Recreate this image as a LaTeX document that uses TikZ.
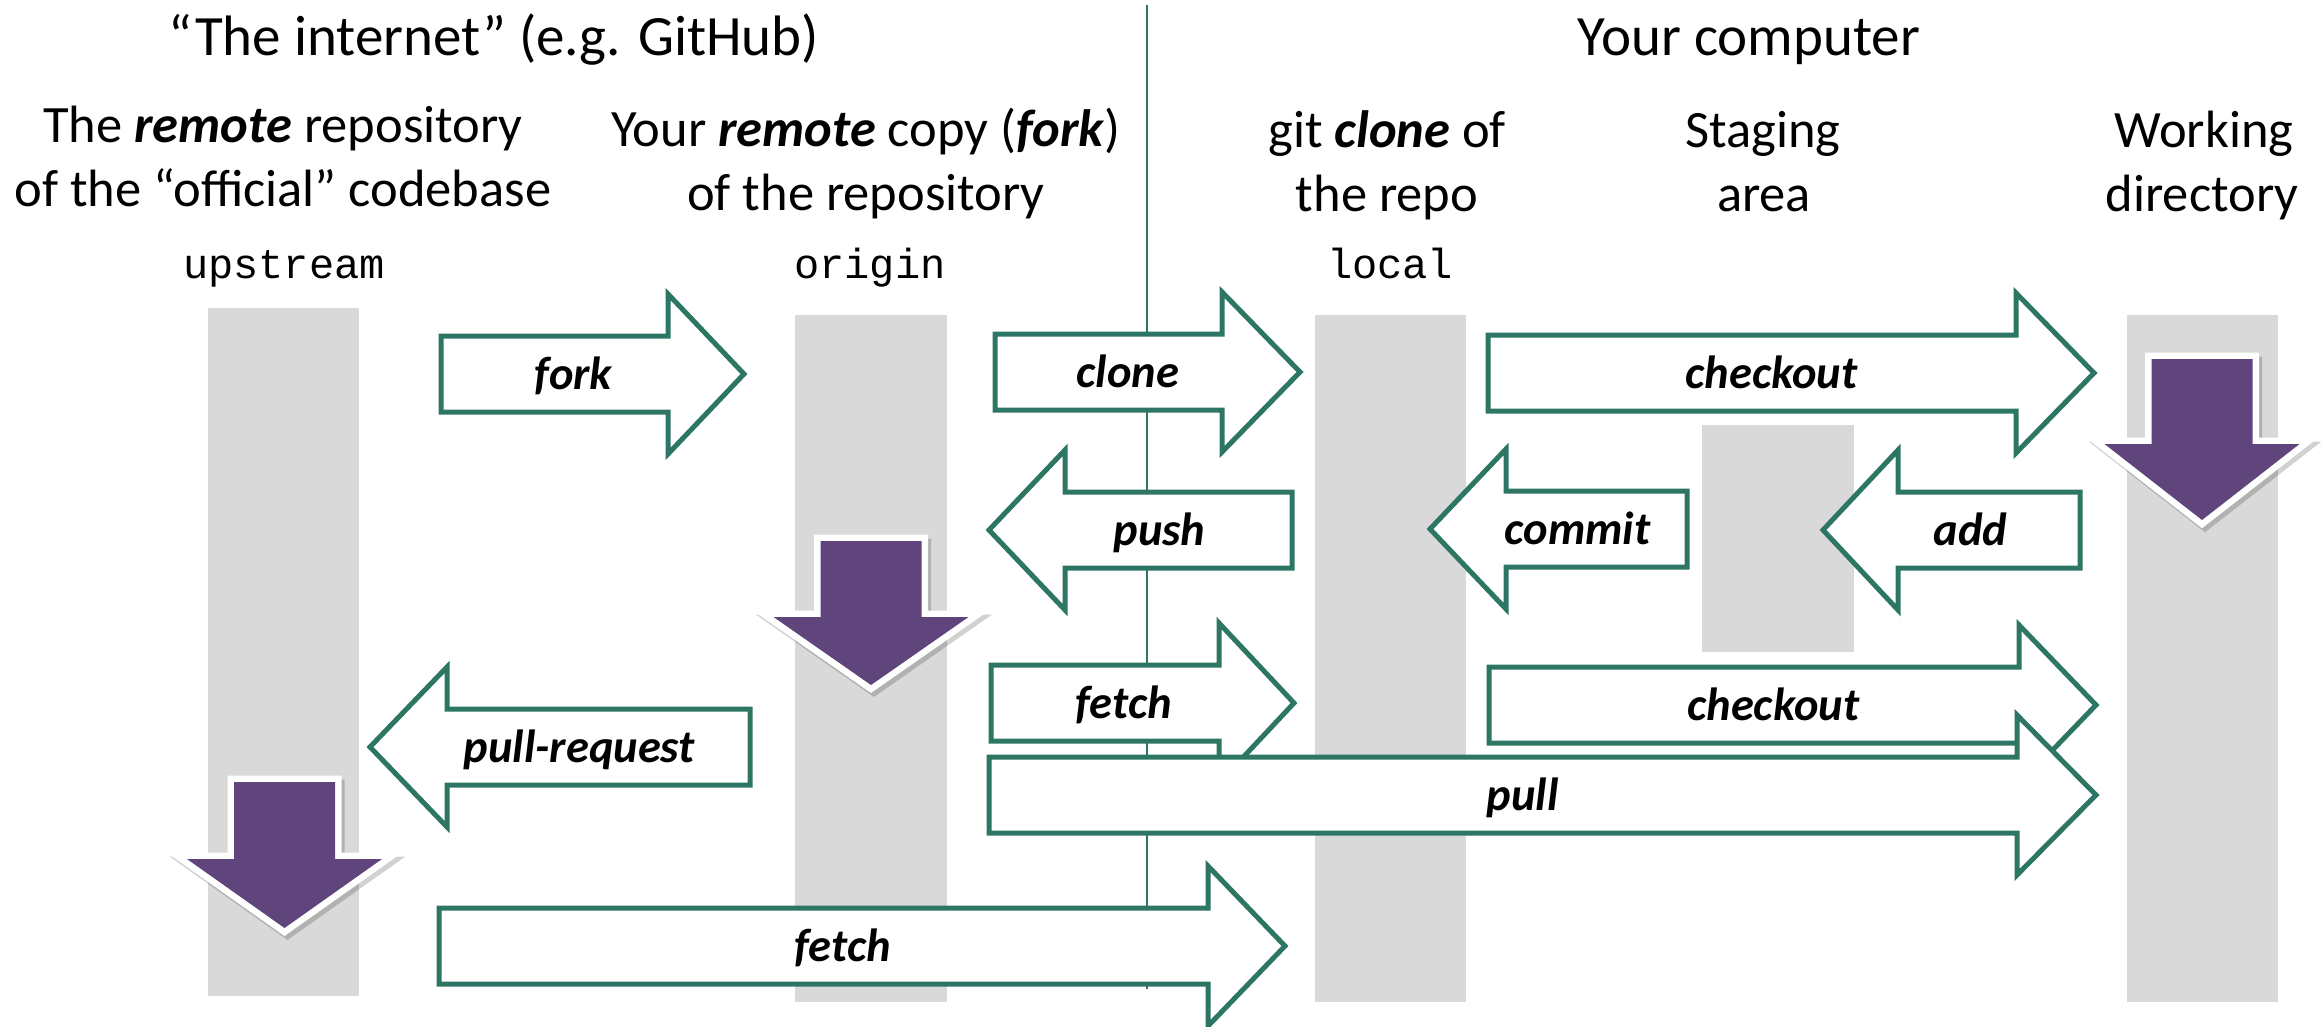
\documentclass[tikz,border=0pt]{standalone}
\usepackage{fontspec}
\setmainfont{Carlito}
\newfontfamily\codefont{Liberation Mono}
\definecolor{gitgreen}{HTML}{2E7664}
\definecolor{gitpurple}{HTML}{60457D}
\definecolor{colgray}{HTML}{D9D9D9}
\tikzset{
  garrow/.style={draw=gitgreen, fill=white, line width=5pt, line join=miter},
  lbl/.style={anchor=base, inner sep=0pt, font=\fontsize{46.5}{50}\selectfont\bfseries\itshape},
  colbox/.style={fill=colgray, draw=none},
  ttl/.style={anchor=base, inner sep=0pt, font=\fontsize{57}{64}\selectfont},
  sub/.style={anchor=base, inner sep=0pt, font=\fontsize{52.5}{64}\selectfont},
  code/.style={anchor=base, inner sep=0pt, font=\fontsize{42}{48}\codefont},
  parrow/.style={fill=gitpurple, draw=white, line width=13pt, line join=miter},
  pshadow/.style={fill=black, draw=black, line width=13pt, line join=miter, opacity=0.18},
}
% right-pointing arrow: name, left, neck, tip, cy, label
\newcommand\RArrow[6]{%
  \draw[garrow] (#2,#5-38) -- (#3,#5-38) -- (#3,#5-80) -- (#4,#5) -- (#3,#5+80) -- (#3,#5+38) -- (#2,#5+38) -- cycle;
  \node[lbl] (#1) at ({(#2+#3)/2+(#4-#3)/4},#5+15) {#6};
}
% left-pointing arrow: name, tip, neck, right, cy, label
\newcommand\LArrow[6]{%
  \draw[garrow] (#4,#5-38) -- (#3,#5-38) -- (#3,#5-80) -- (#2,#5) -- (#3,#5+80) -- (#3,#5+38) -- (#4,#5+38) -- cycle;
  \node[lbl] (#1) at ({(#3+#4)/2-(#3-#2)/4},#5+15) {#6};
}
% down-pointing purple arrow: cx, shaft top, head top, tip
\newcommand\DArrow[4]{%
  \path[pshadow] (#1-50.5+3,#2+4) -- (#1+50.5+3,#2+4) -- (#1+50.5+3,#3+4) -- (#1+97.5+3,#3+4) -- (#1+3,#4+4) -- (#1-97.5+3,#3+4) -- (#1-50.5+3,#3+4) -- cycle;
  \path[parrow] (#1-50.5,#2) -- (#1+50.5,#2) -- (#1+50.5,#3) -- (#1+97.5,#3) -- (#1,#4) -- (#1-97.5,#3) -- (#1-50.5,#3) -- cycle;
  \fill[gitpurple] (#1-50.5,#2) -- (#1+50.5,#2) -- (#1+50.5,#3) -- (#1+97.5,#3) -- (#1,#4) -- (#1-97.5,#3) -- (#1-50.5,#3) -- cycle;
}
\begin{document}
\begin{tikzpicture}[x=1pt,y=-1pt]
\useasboundingbox (0,0) rectangle (2321,1026);
% headers
\node[ttl] (inet) at (494,55) {“The internet” (e.g. GitHub)};
\node[ttl] (comp) at (1749,55) {Your computer};
\node[sub] (hupA) at (283,142) {The \textbf{\textit{remote}} repository};
\node[sub] (hupB) at (283,206) {of the “official” codebase};
\node[sub] (horA) at (866,146) {Your \textbf{\textit{remote}} copy (\textbf{\textit{fork}})};
\node[sub] (horB) at (866,210) {of the repository};
\node[sub] (hloA) at (1387,147) {git \textbf{\textit{clone}} of};
\node[sub] (hloB) at (1387,211) {the repo};
\node[sub] (hstA) at (1763,147) {Staging};
\node[sub] (hstB) at (1764,211) {area};
\node[sub] (hwoA) at (2204,147) {Working};
\node[sub] (hwoB) at (2202,211) {directory};
\node[code] (cup) at (284,278) {upstream};
\node[code] (cor) at (870,278) {origin};
\node[code] (clo) at (1390,278) {local};
% columns
\path[colbox] (208,308) rectangle (359,996);
\path[colbox] (795,315) rectangle (947,1002);
\path[colbox] (1315,315) rectangle (1466,1002);
\path[colbox] (1702,425) rectangle (1854,652);
\path[colbox] (2127,315) rectangle (2278,1002);
% divider
\coordinate (dtop) at (1147,5);
\coordinate (dbot) at (1147,989);
\draw[gitgreen, line width=2.2pt] (dtop) -- (dbot);
% arrows
\RArrow{fork}{441}{668}{744}{374}{fork}
\RArrow{clone}{995}{1222}{1300}{372}{clone}
\RArrow{checkoutA}{1488}{2016}{2094}{373}{checkout}
\LArrow{push}{989}{1065}{1292}{530}{push}
\LArrow{commit}{1430}{1506}{1687}{529}{commit}
\LArrow{add}{1823}{1898}{2080}{530}{add}
\RArrow{fetchA}{991}{1219}{1294}{703}{fetch}
\RArrow{checkoutB}{1489}{2019}{2096}{705}{checkout}
\RArrow{pull}{989}{2017}{2096}{795}{pull}
\LArrow{pullreq}{370}{447}{750}{747}{pull-request}
\RArrow{fetchB}{439}{1208}{1285}{946}{fetch}
% purple arrows
\DArrow{871}{541}{617}{685}
\DArrow{2202}{359}{444}{520}
\DArrow{284.5}{782}{859}{928}
\end{tikzpicture}
\end{document}
